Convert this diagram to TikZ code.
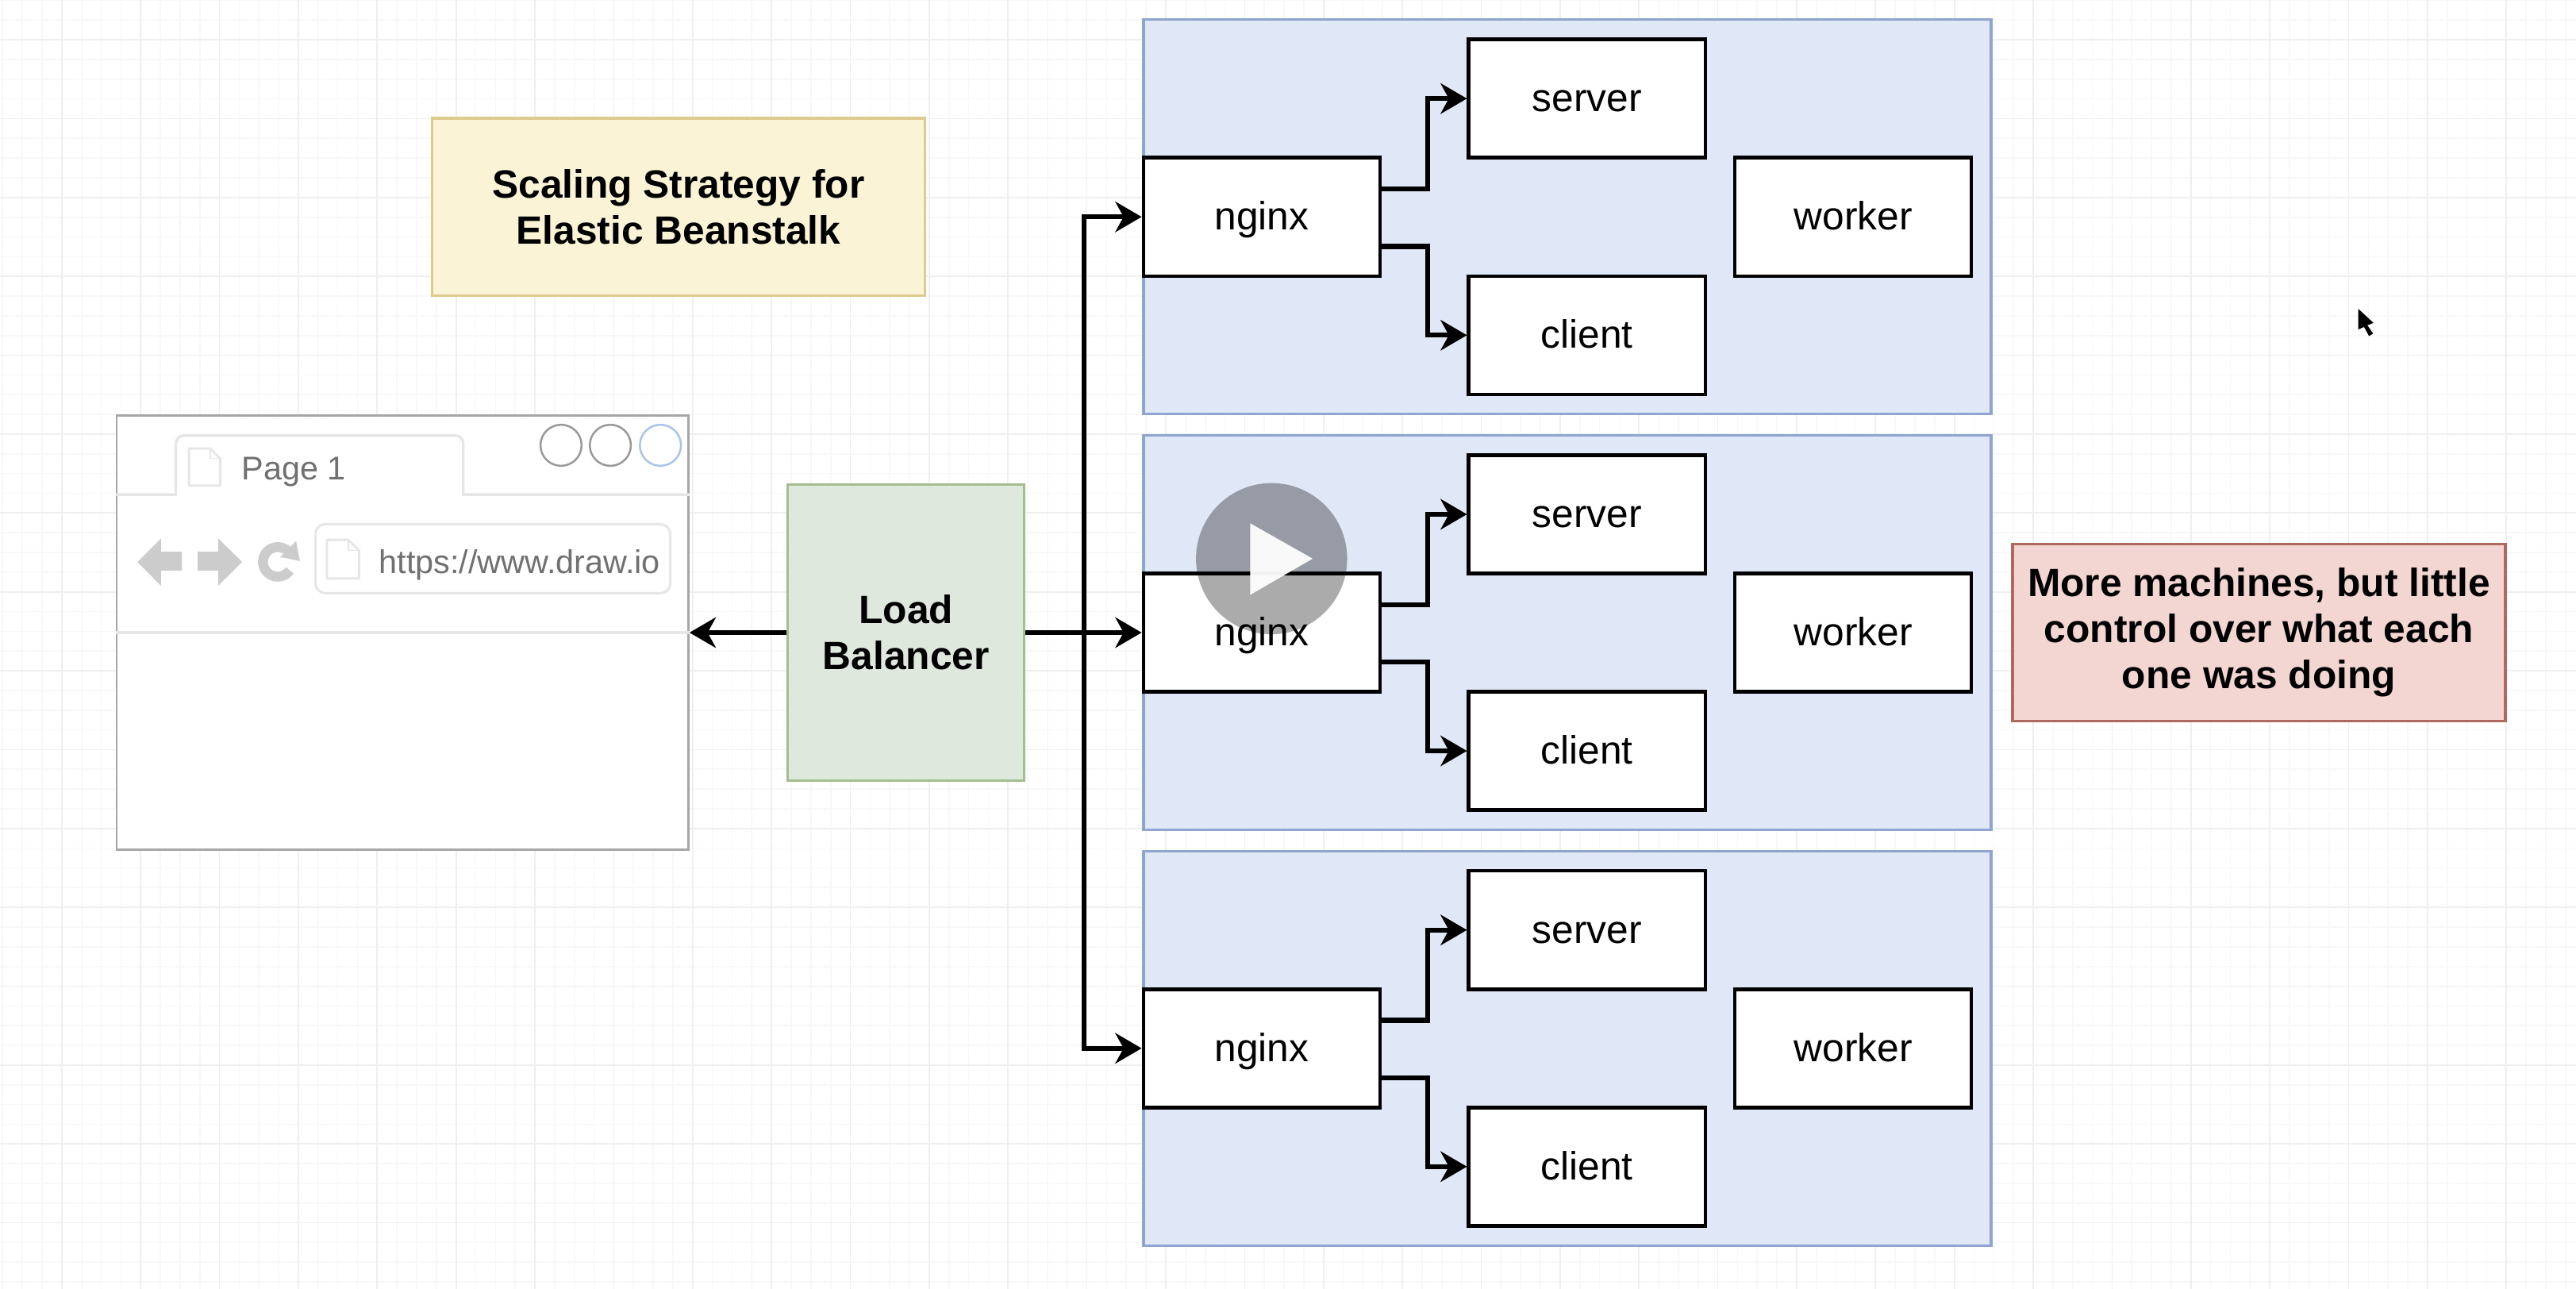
\documentclass[tikz,border=0pt]{standalone}
\usepackage{fontspec}
\setmainfont{Liberation Sans}
\usetikzlibrary{arrows.meta}
\definecolor{hostfill}{HTML}{E0E8F8}
\definecolor{hostline}{HTML}{8FA5CF}
\definecolor{notefill}{HTML}{FAF3D6}
\definecolor{noteline}{HTML}{DCCB8C}
\definecolor{lbfill}{HTML}{DEE8DC}
\definecolor{lbline}{HTML}{A3BE8C}
\definecolor{warnfill}{HTML}{F3D5D2}
\definecolor{warnline}{HTML}{B0695F}
\definecolor{chrome}{HTML}{E6E6E6}
\definecolor{chromeicon}{HTML}{CCCCCC}
\definecolor{chrometext}{HTML}{707070}
\definecolor{btnline}{HTML}{999999}
\definecolor{btnblue}{HTML}{A9C4EB}
\definecolor{gridminor}{HTML}{F8F8F8}
\definecolor{gridmajor}{HTML}{EFEFEF}

\begin{document}
\begin{tikzpicture}[x=1pt,y=-1pt,
host/.style={draw=hostline,line width=1.6pt,fill=hostfill,minimum width=516pt,minimum height=240pt,inner sep=0pt},
proc/.style={draw=black,line width=2.2pt,fill=white,minimum width=144pt,minimum height=72pt,inner sep=0pt,text height=16pt,text depth=0pt,font=\fontsize{24}{28}\selectfont},
note/.style={line width=1.6pt,align=center,inner sep=0pt,font=\fontsize{24}{28}\selectfont\bfseries},
link/.style={line width=3pt,-{Stealth[length=16pt,width=18.5pt,inset=5pt]}},
chromeline/.style={draw=chrome,line width=1.6pt},
pageicon/.style={draw=chrome,line width=1.4pt,line join=round},
dot/.style={circle,draw=#1,line width=1.2pt,minimum size=25pt,inner sep=0pt},
chrometxt/.style={text=chrometext,inner sep=0pt,font=\fontsize{20}{24}\selectfont}]
\useasboundingbox (0,0) rectangle (1568,784);
\clip (0,0) rectangle (1568,784);
\fill[white] (0,0) rectangle (1568,784);
\draw[gridminor,line width=0.8pt,step=12pt,shift={(1.6,0.2)}] (-24,-24) grid (1584,800);
\draw[gridmajor,line width=0.8pt,step=48pt,shift={(37.6,24.2)}] (-48,-48) grid (1584,800);
% browser
\node[draw=gray!70,line width=1.4pt,fill=white,minimum width=348pt,minimum height=264pt,inner sep=0pt] (browser) at (245,385) {};
\coordinate (tabL) at (107,301);
\coordinate (tabR) at (282,301);
\draw[chromeline] (browser.west |- tabL) -- (tabL) -- (107,270) arc[start angle=180,end angle=270,radius=5] -- (277,265) arc[start angle=-90,end angle=0,radius=5] -- (tabR) -- (browser.east |- tabR);
\draw[chromeline] (browser.west |- 0,385) -- (browser.east |- 0,385);
\node[dot=btnline] (btnA) at (341.5,271) {};
\node[dot=btnline] (btnB) at (371.5,271) {};
\node[dot=btnblue] (btnC) at (402,271) {};
\draw[pageicon] (115,273) -- (128,273) -- (134,279) -- (134,295.5) -- (115,295.5) -- cycle;
\draw[pageicon,line width=0.8pt] (128,273) -- (128,279) -- (134,279);
\node[chrometxt,anchor=west] (tabtext) at (147,287) {Page 1};
\fill[chromeicon] (83.7,342) -- (98,327.7) -- (98,335.8) -- (110.7,335.8) -- (110.7,347.3) -- (98,347.3) -- (98,356.5) -- cycle;
\fill[chromeicon] (147.4,342) -- (132.8,327.7) -- (132.8,335.8) -- (120.4,335.8) -- (120.4,347.3) -- (132.8,347.3) -- (132.8,356.5) -- cycle;
\draw[chromeicon,line width=6pt] (175.4,335.6) arc[start angle=-45,end angle=-325,radius=9];
\fill[chromeicon] (180.2,329.3) -- (182.6,341.4) -- (170.6,339) -- cycle;
\node[draw=chrome,line width=1.4pt,rounded corners=6pt,minimum width=216pt,minimum height=42pt,inner sep=0pt] (address) at (300,340) {};
\draw[pageicon] (199,328.5) -- (212,328.5) -- (218.5,335) -- (218.5,352) -- (199,352) -- cycle;
\draw[pageicon,line width=0.8pt] (212,328.5) -- (212,335) -- (218.5,335);
\node[chrometxt,anchor=west] (url) at (230.5,344) {https://www.draw.io};
% notes
\node[note,draw=noteline,fill=notefill,minimum width=300pt,minimum height=108pt] (title) at (413,126) {Scaling Strategy for\\Elastic Beanstalk};
\node[note,draw=warnline,fill=warnfill,minimum width=300pt,minimum height=108pt] (remark) at (1375,385) {More machines, but little\\control over what each\\one was doing};
\node[note,draw=lbline,fill=lbfill,minimum width=144pt,minimum height=180pt] (lb) at (551.5,385) {Load\\Balancer};
% machines
\node[host] (hostA) at (954,132) {};
\node[host] (hostB) at (954,385) {};
\node[host] (hostC) at (954,638) {};
\node[proc] (nginxA) at (768,132) {nginx};
\node[proc] (serverA) at (966,60) {server};
\node[proc] (clientA) at (966,204) {client};
\node[proc] (workerA) at (1128,132) {worker};
\node[proc] (nginxB) at (768,385) {nginx};
\node[proc] (serverB) at (966,313) {server};
\node[proc] (clientB) at (966,457) {client};
\node[proc] (workerB) at (1128,385) {worker};
\node[proc] (nginxC) at (768,638) {nginx};
\node[proc] (serverC) at (966,566) {server};
\node[proc] (clientC) at (966,710) {client};
\node[proc] (workerC) at (1128,638) {worker};
% connectors
\coordinate (split) at (660,385);
\draw[link] (lb.west) -- (browser.east);
\draw[link] (lb.east) -- (nginxB.west);
\draw[link] (split) |- (nginxA.west);
\draw[link] (split) |- (nginxC.west);
\draw[link] ([yshift=17pt]nginxA.east) -- ++(28,0) |- (serverA.west);
\draw[link] ([yshift=-18pt]nginxA.east) -- ++(28,0) |- (clientA.west);
\draw[link] ([yshift=17pt]nginxB.east) -- ++(28,0) |- (serverB.west);
\draw[link] ([yshift=-18pt]nginxB.east) -- ++(28,0) |- (clientB.west);
\draw[link] ([yshift=17pt]nginxC.east) -- ++(28,0) |- (serverC.west);
\draw[link] ([yshift=-18pt]nginxC.east) -- ++(28,0) |- (clientC.west);
% video overlay
\fill[black,opacity=0.33] (774,340) circle[radius=46];
\fill[white,opacity=0.95] (761,318.5) -- (799,340) -- (761,362) -- cycle;
\fill[black] (1435.5,188) -- (1435.5,200.5) -- (1439,199) -- (1442,204.5) -- (1444.5,203) -- (1441,198) -- (1444.7,196.5) -- cycle;
\end{tikzpicture}
\end{document}
